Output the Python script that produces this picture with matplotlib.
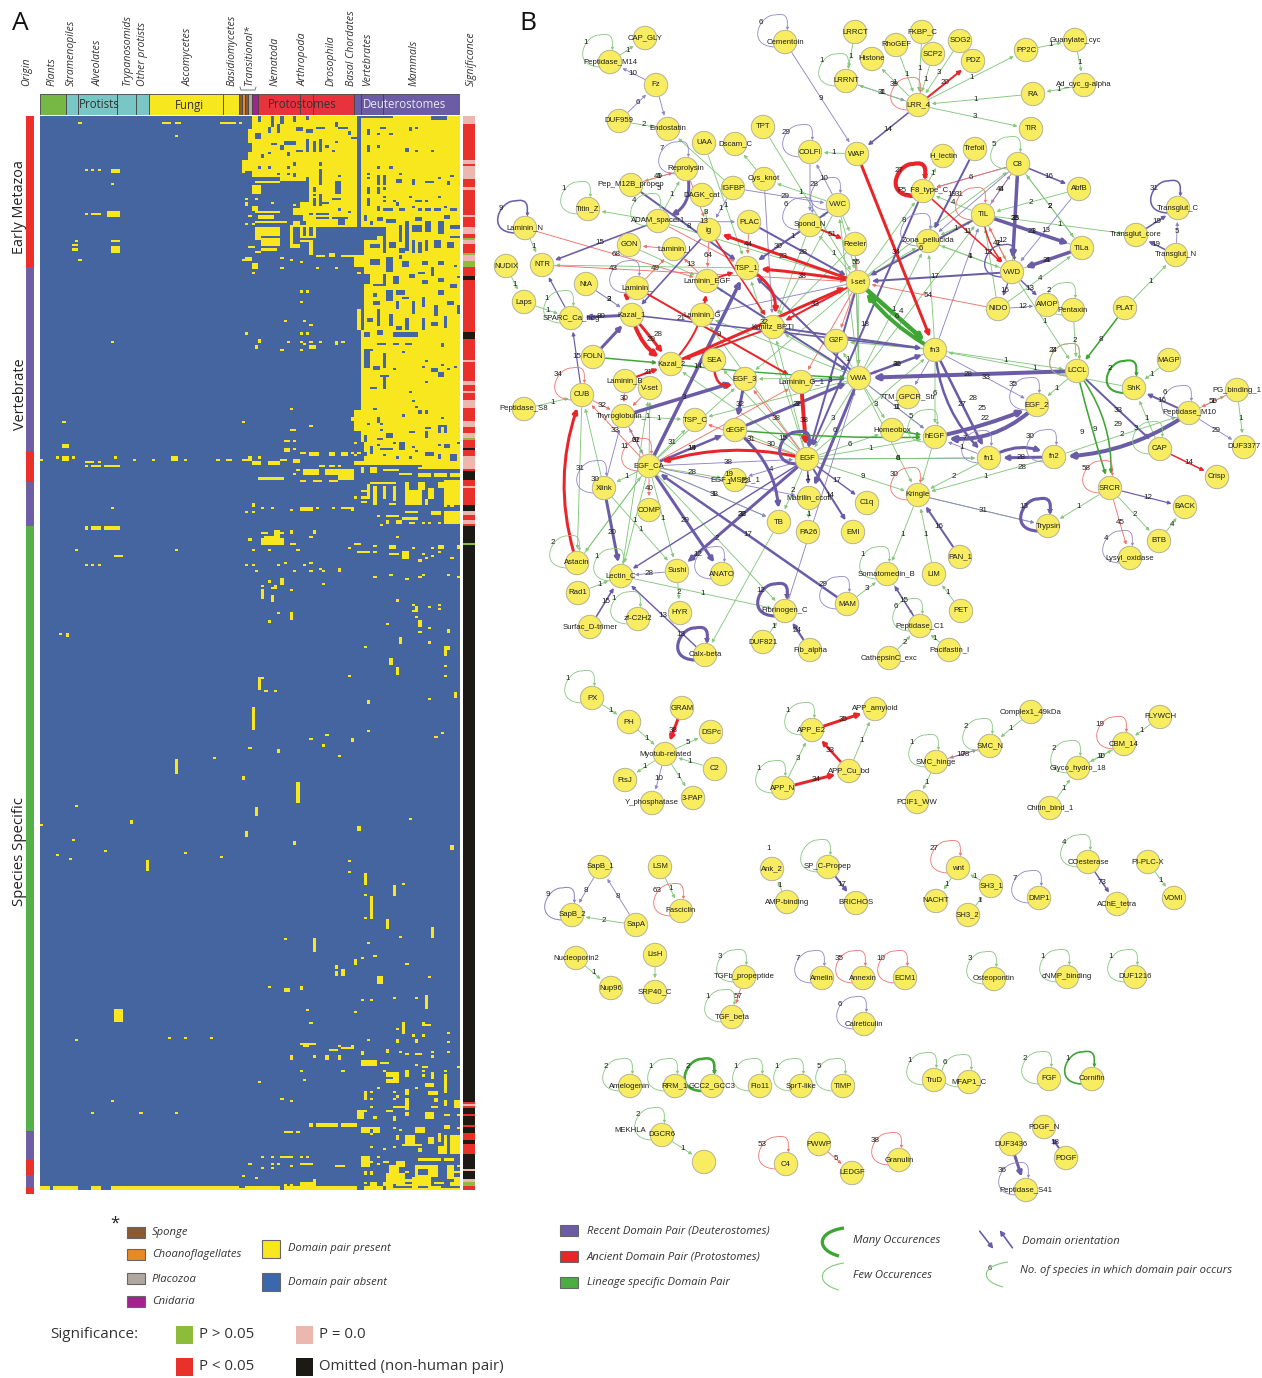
import numpy as np
import matplotlib
matplotlib.use('Agg')
import matplotlib.pyplot as plt
from matplotlib.colors import ListedColormap
from matplotlib.patches import FancyArrowPatch, Rectangle, PathPatch, Circle
from matplotlib.path import Path

plt.rcParams['font.family'] = ['Open Sans', 'DejaVu Sans']

# ---------- heatmap data (columns = species, rows = domain pairs) ----------
N_ROWS, N_COLS = 511, 131
PRESENT_BASE = [(65,99,0,29),(63,66,21,27),(75,99,29,31),(84,99,29,53),(79,84,44,53),(81,84,41,47),
    (100,131,0,164),(98,131,164,166),(119,131,162,168),(98,100,140,150),(97,100,143,145),(98,101,66,72),(99,100,92,102)]
ABSENT_BLOCKS = [
 # protostome part
 (68,69,0,3),(72,73,0,5),(75,76,0,4),(79,80,0,3),(83,84,0,2),(86,89,5,6),(93,96,5,6),(92,93,3,5),(96,97,7,9),
 (65,66,2,6),(67,69,8,11),(71,72,5,8),(74,75,4,8),(80,82,5,7),(83,85,6,8),(76,80,12,14),(72,74,13,14),
 (83,84,11,17),(85,86,12,17),(87,88,11,17),(89,90,14,15),(92,93,12,13),(91,92,16,17),(80,82,16,17),
 (77,78,17,19),(71,72,17,18),(65,66,13,17),(79,80,22,24),(87,88,22,24),(68,69,24,25),(71,72,24,25),(77,78,24,25),
 (64,66,26,30),(87,88,25,33),(83,84,29,33),(93,94,28,29),(92,94,31,37),(74,75,27,28),(77,78,27,28),(79,80,27,29),
 (85,86,34,36),(85,86,37,38),(87,88,37,43),(88,90,41,42),(91,94,39,40),(85,86,39,43),(86,90,46,47),(86,90,48,49),
 (93,95,49,52),(91,96,48,49),(93,94,44,45),(96,97,45,46),(84,85,46,47),(79,82,47,50),(81,83,50,53),
 (65,66,0,2),(97,99,10,11),(69,70,18,20),(75,76,14,16),
 # deuterostome part
 (100,110,0,1),(122,127,0,2),(106,108,5,6),(102,103,6,9),(105,106,8,9),(109,110,8,9),(115,116,5,7),(117,118,5,6),
 (102,103,14,17),(105,106,14,15),(114,115,15,17),(117,118,16,17),(122,123,16,17),(105,106,24,25),(109,110,24,25),
 (102,103,27,28),(102,103,29,30),(105,106,28,33),(107,108,28,33),(112,113,27,28),(111,113,30,32),(116,117,30,33),
 (120,123,31,32),(124,125,29,30),(127,128,31,33),(128,129,28,29),(102,103,34,37),(105,106,34,37),(107,108,34,35),
 (107,108,38,39),(107,108,40,41),(110,111,40,41),(102,103,39,43),(115,116,38,39),(117,119,40,41),(120,121,40,41),
 (124,125,38,39),(105,106,43,45),(107,109,44,45),(109,110,44,45),(112,114,44,45),(116,117,43,44),(118,119,44,45),
 (120,122,44,45),(123,125,44,45),(126,127,43,44),(128,130,44,45),(111,112,41,43),
 # checker rows
 (100,105,53,59),(100,101,59,66),(105,108,53,57),(112,113,52,60),(114,115,50,64),(116,119,52,55),(120,122,50,55),
 (124,126,50,56),(128,131,52,54),(128,131,57,58),(107,108,57,65),(103,106,61,63),(109,111,60,63),(116,117,59,65),
 (118,119,60,65),(120,121,59,64),(123,125,59,63),(127,129,60,63),(112,114,63,65),(101,102,47,50),(105,107,48,50),
 (108,111,49,51),(103,104,50,52),(117,119,48,50),(126,128,47,49),
 (103,106,68,71),(108,110,67,74),(113,115,69,72),(119,121,69,71),(124,126,69,71),(129,130,71,72),
 (100,103,75,80),(107,108,75,81),(110,112,76,80),(115,117,75,77),(119,121,78,80),(124,126,77,79),(130,131,76,77),
 (100,101,72,85),(108,110,83,88),(111,114,83,85),(111,112,88,92),(116,117,88,94),(119,120,86,91),(124,126,83,85),
 (123,124,90,95),(127,129,88,90),(104,107,80,81),(104,106,88,90),(105,106,92,100),(109,110,94,100),(114,115,96,102),
 (119,120,96,102),(126,127,95,101),(102,104,96,98),(100,101,85,102),(122,123,72,76),(112,113,66,68),(118,120,74,75),
 (128,130,80,82),(130,131,90,94),(113,115,86,87),(104,105,84,86),(122,124,98,100),(111,113,100,102),
 # vertebrate rows
 (105,107,102,104),(110,118,103,105),(101,103,103,105),(125,126,108,110),(105,108,108,109),(110,112,108,109),(114,116,108,109),
 (101,103,111,120),(103,104,111,112),(107,108,113,120),(104,106,119,121),(106,109,123,124),(107,108,123,130),(103,105,129,130),
 (110,111,120,121),(113,114,112,113),(119,120,119,120),(122,124,120,122),(125,126,118,119),(124,126,122,124),
 (129,130,119,120),(120,121,126,127),(115,116,131,132),(116,117,135,136),(117,118,138,139),(118,119,140,142),
 (120,121,140,142),(125,126,143,144),(105,106,143,146),(104,105,139,140),(113,114,142,143),(102,103,146,147),
 (106,107,146,147),(106,107,149,150),(120,122,148,149),(120,121,150,153),(124,127,147,148),(124,125,148,151),(126,127,148,151),
 (115,117,150,151),(108,110,151,153),(101,102,152,155),(105,107,153,154),(112,114,155,159),(116,117,157,158),
 (110,111,155,156),(103,104,157,161),(106,110,158,159),(126,128,156,158),(124,125,156,157),(120,123,160,162),
 (130,131,155,156),(128,130,161,164),(117,118,159,160),(111,112,162,163),(115,116,162,163),(124,125,161,163),(101,102,160,162),
 (100,101,155,164),(107,108,161,162),(105,106,156,157),(127,128,120,121),(120,121,116,117)]
PRESENT_BLOCKS = [
 (67,75,31,32),(66,69,33,37),(67,77,50,51),(78,88,52,53),(78,79,52,62),(81,82,52,57),(83,84,52,57),(85,86,52,58),
 (81,85,57,58),(78,81,61,63),(84,85,59,66),(81,84,59,60),(67,75,53,57),(69,75,58,62),(67,69,57,59),(69,74,63,64),
 (65,67,62,63),(67,69,64,65),(86,89,66,67),(90,92,65,67),(94,97,66,67),(96,99,66,67),(64,66,67,69),(66,68,70,73),
 (68,73,45,46),(67,75,45,46),(68,73,47,49),(64,65,41,43),(66,68,43,45),
 (38,41,3,4),(42,44,3,4),(56,61,3,4),(22,25,25,27),(21,25,45,48),(16,19,46,47),(10,12,61,62),(10,12,63,64),(22,25,59,60),(22,25,62,65),
 # mid bands
 (66,69,164,166),(71,75,164,166),(75,77,163,164),(63,66,163,164),(82,87,168,171),(89,98,168,171),(93,98,171,173),
 (87,89,166,167),(90,92,166,167),(93,94,166,167),(81,83,160,161),(84,87,160,162),(90,92,160,162),(94,96,160,162),
 (76,78,158,160),(76,78,154,155),(68,76,172,173),(81,83,173,174),(85,88,173,174),(90,93,173,174),(79,81,163,165),
 (14,17,164,165),(14,15,166,167),(16,19,166,167),(20,25,166,167),(7,9,156,158),(7,9,162,164),(41,43,162,164),(58,60,163,164),
 (100,101,167,170),(107,112,168,169),(112,116,170,171),(118,127,167,168),(118,122,170,172),(123,127,170,172),(103,105,167,170),(128,131,170,172),
 (103,111,174,175),(104,105,176,185),(107,108,176,182),(110,111,176,183),(100,103,178,179),(100,103,181,182),(100,102,183,184),(102,103,175,181),
 (126,131,173,185),(114,119,178,185),(114,115,174,178),(118,120,174,178),(121,123,177,182),(124,126,174,177),(120,121,182,185),
 (126,127,184,186),(128,129,184,186),(109,111,184,185),
 (126,131,188,194),(108,112,190,191),(108,109,192,194),(111,113,192,194),(113,118,191,192),(122,125,188,190),(116,117,193,194),(114,118,188,189),
 (81,85,186,188),(94,98,186,187),(97,98,187,188),
 (14,15,195,197),(16,19,195,197),(20,25,195,197),
 (69,71,198,199),(69,76,201,204),(73,75,197,201),(70,73,200,201),(78,80,203,204),(98,100,203,204),(109,111,204,206),(124,126,204,206),(130,131,204,206),
 (99,103,207,208),(109,112,208,209),(113,115,207,211),(23,26,209,210),
 (68,70,267,268),(73,74,223,225),(72,73,224,225),(126,128,252,254),(117,118,233,236),(116,118,235,236),
 (105,107,409,413),(76,78,415,417),(23,26,425,431),(81,86,441,442),(82,84,442,443),(90,93,444,445),(94,97,443,444),
 (119,122,432,433),(100,103,449,452),(103,105,449,452),(106,109,450,451),(108,112,455,457),(108,110,458,460),(110,112,457,460),
 (120,123,460,462),(121,124,464,466),(110,114,471,472),(129,131,468,472),(122,124,471,472),(99,101,473,477),(99,102,473,474),
 (108,110,473,474),(120,122,474,477),(126,128,475,476),(86,93,479,481),(94,99,479,481),(84,85,479,481),(76,79,483,484),
 (100,103,481,484),(104,106,481,484),(117,120,481,484),(114,117,485,489),(113,119,489,490),(121,123,486,489),(128,131,485,490),
 (124,127,490,494),(128,131,490,494),(75,78,495,496),(81,85,498,499),(92,95,499,500),(100,103,495,500),(111,114,497,500),
 (118,122,496,497),(122,125,496,497),(126,129,496,497),(109,112,499,503),(117,124,499,501),(117,118,500,505),(121,124,500,505),
 (127,129,499,506),(108,114,503,508),(118,122,504,509),(123,126,507,508),(129,131,502,503),(81,86,507,509),(103,105,507,509),
 (128,131,507,509),(113,116,506,507),(126,128,480,482),(108,110,505,511),(116,118,505,511),
 # bottom row
 (0,3,509,511),(4,12,509,511),(16,19,509,511),(22,24,509,511),(24,31,509,511),(31,62,509,511),(62,64,510,511),(64,75,509,511),
 (76,88,509,511),(88,93,509,511),(93,99,509,511),(101,107,509,511),(108,131,510,511),(111,116,508,509),(121,125,509,510),(129,131,505,509)]
# (column, first row, last row exclusive)
PRESENT_STRIPS = [
 (69,225,230),(72,228,231),(78,236,240),(75,220,223),(112,248,251),(126,252,257),(109,258,261),(111,262,266),(68,267,273),
 (129,274,277),(102,278,280),(66,281,292),(97,296,298),(74,301,303),(42,306,313),(63,314,316),(80,317,327),(67,329,333),
 (28,335,337),(99,338,340),(64,340,343),(79,345,347),(128,347,349),(33,354,359),(101,360,366),(110,366,371),(103,371,382),
 (108,382,387),(122,386,391),(85,391,398),(98,401,404),(92,404,406),(92,407,409),(94,406,409),(120,418,425),(113,431,437),
 (118,240,243),(8,246,248),(127,244,246),(68,106,108),(67,109,111),(92,107,109),(66,184,186),(78,197,199),(85,197,199),
 (114,454,457),(122,455,458),(126,456,465),(101,464,468),(114,463,466),(126,468,471),(114,467,473),(123,467,469),(100,445,447),
 (78,447,449),(89,447,449),(93,447,449),(111,439,441),(117,439,441),(97,442,444),(108,444,446),(114,474,476),(110,476,478),
 (122,474,477),(111,485,487),(124,484,488),(126,485,490),(118,491,493),(103,502,504),(101,502,504),(107,507,509)]
PRESENT_CELLS = [
 (12,3),(62,3),(42,9),(65,9),(14,25),(16,25),(18,25),(22,32),(14,46),(11,59),(12,68),(81,83),(83,83),(81,88),(76,97),(82,97),(84,99),
 (64,39),(67,39),(72,41),(79,42),(65,47),(64,51),(66,51),(75,67),(78,68),(81,69),(63,68),(66,74),(75,72),(92,72),(99,74),(86,72),
 (22,107),(64,103),(77,107),(75,111),(81,103),(83,103),(81,107),(82,108),(84,107),(81,111),(87,107),(94,107),(84,109),(85,109),(84,110),(85,110),
 (78,139),(63,145),(7,145),(84,147),(78,149),(79,149),(76,154),(79,154),(79,158),(0,163),(5,162),(10,162),(23,162),(29,163),(35,163),(45,163),(55,163),
 (65,162),(68,162),(18,164),(80,168),(79,170),(98,155),(99,160),(97,160),(98,161),(22,186),(64,188),(66,188),(69,186),(72,186),(78,187),(86,186),(91,186),
 (98,181),(105,190),(106,194),(115,193),(119,193),(121,193),(124,193),(75,198),(84,200),(65,201),(111,200),(104,204),(96,205),(116,205),(122,205),
 (11,206),(42,206),(66,206),(71,206),(80,206),(124,207),(104,207),(119,208),(122,209),(128,210),(118,211),(120,210),
 (14,213),(16,213),(18,213),(64,213),(66,213),(74,213),(76,212),(82,213),(84,212),(87,215),(93,215),(67,216),(79,216),(84,216),(88,216),(93,216),
 (104,219),(109,218),(114,220),(118,219),(119,218),(127,218),(130,219),(69,223),(71,221),(78,225),(74,236),(71,240),(88,222),(111,230),(116,232),
 (121,233),(124,232),(124,234),(117,238),(121,243),(118,245),(108,241),(6,246),(121,250),(101,252),(126,261),(126,266),(96,266),(70,273),(73,273),
 (121,277),(102,292),(89,294),(84,296),(88,299),(65,300),(93,304),(54,305),(11,328),(0,337),(115,334),(10,344),(20,349),(5,351),(9,353),(45,350),(56,352),
 (96,354),(96,359),(113,365),(125,293),(123,295),(101,370),(101,381),(112,390),(76,391),(102,393),(100,400),(104,399),(114,403),(121,409),(71,414),
 (81,414),(81,415),(100,420),(103,420),(110,419),(117,419),(83,425),(98,426),(84,431),(111,434),(119,431),(11,439),(40,438),(45,438),(53,438),(102,439),
 (116,437),(119,437),(127,436),(127,440),(93,442),(100,446),(112,445),(114,446),(117,446),(118,446),(122,445),(122,447),(127,445),(85,447),(117,451),
 (119,452),(120,452),(130,452),(107,454),(119,454),(119,456),(126,454),(81,454),(94,454),(82,458),(68,459),(105,462),(117,462),(103,464),(103,467),
 (110,464),(110,467),(111,466),(75,467),(78,468),(123,464),(22,468),(103,471),(16,474),(31,474),(42,474),(104,476),(130,475),(103,481),(110,481),(112,482),
 (80,483),(103,484),(127,481),(130,481),(103,490),(107,491),(110,490),(69,495),(72,495),(78,495),(81,495),(83,495),(65,498),(72,498),(74,498),(78,499),(69,500),(72,500),
 (105,495),(107,497),(108,497),(103,497),(105,498),(63,504),(67,505),(76,508),(78,508),(85,506),(101,507),(113,498),(120,500),(114,502),(130,499)]

# ---------- bars around the heatmap ----------
ORIGIN_CODES = ['R','P','R','P','G','P','R','P','R']
ORIGIN_ROWS = [72,88,14,21,288,14,7,6,3]
SIG_CODES = ['P','R','P','R','P','R','P','R','P','R','P','R','G','P','R','G','P','G','R','K','R','K','R','P','R','P','R','P','R','P','R','P','R','P','G','R','K','R','P','R','K','R','P','R','K','P','R','P','R','K','G','K','R','P','R','K','R','K','R','K','R','K','R','K','P','K','P','G','R']
SIG_ENDS = [4,21,23,24,30,34,35,47,48,53,56,58,59,61,65,66,69,72,76,78,103,106,116,117,126,128,131,132,135,139,145,148,151,153,154,158,159,162,168,169,173,176,177,185,188,190,192,194,195,203,204,469,470,471,472,475,476,480,481,484,487,489,494,501,502,506,507,509,511]
HEADER_NAMES = ['Plants','Stramenopiles','Alveolates','Trypanosomids','Other protists','Ascomycetes','Basidiomycetes','Sponge','Choanoflagellates','Sponge2','Placozoa','Cnidaria','Nematoda','Arthropoda','Drosophila','Basal Chordates','Vertebrates','Mammals']
HEADER_COLS = [8,4,12,6,4,23,5,1,1,1,1,2,13,4,13,2,7,24]
HEADER_COLORS = ['#76b843','#78c6c6','#78c6c6','#78c6c6','#78c6c6','#f7e71f','#f7e71f','#8a5a34','#e58a25','#8a5a34','#b0a8a0','#a3238e','#e8323c','#e8323c','#e8323c','#6b5ca5','#6b5ca5','#6b5ca5']
HEADER_TEXT = ['Origin','Plants','Stramenopiles','Alveolates','Trypanosomids','Other protists','Ascomycetes','Basidiomycetes','Transitional*','Nematoda','Arthropoda','Drosophila','Basal Chordates','Vertebrates','Mammals','Significance']
HEADER_TEXT_X = [27,52,71,98,128,143,188,232,250,275,303,331,352,368,414,471]

# ---------- network data ----------
NODES = {
'CAP_GLY':(645,38),'Peptidase_M14':(610,62),'Fz':(656,85),'DUF959':(619,121),'Endostatin':(668,129),'UAA':(704,143),'Dscam_C':(735,144),'TPT':(763,127),
'COLFI':(810,152),'WAP':(857,154),'Cementoin':(785,42),'LRRCT':(855,32),'Histone':(872,59),'LRRNT':(846,81),'RhoGEF':(896,45),'FKBP_C':(922,32),'SOG2':(960,41),
'SCP2':(933,54),'PDZ':(973,61),'LRR_4':(918,105),'PP2C':(1026,50),'Guanylate_cyc':(1075,40),'Ad_cyc_g-alpha':(1084,85),'RA':(1033,94),'TIR':(1031,129),
'Reprolysin':(686,169),'Pep_M12B_propep':(631,185),'DAGK_cat':(702,195),'IGFBP':(733,188),'Cys_knot':(764,179),'Titin_Z':(588,209),'ADAM_spacer1':(658,221),
'VWC':(838,205),'ig':(709,230),'PLAC':(749,222),'Spond_N':(810,225),'Reeler':(855,244),'Laminin_N':(525,228),'GON':(629,245),'Laminin_I':(674,249),'NTR':(542,265),
'NUDIX':(506,266),'TSP_1':(747,268),'I-set':(858,282),'Laps':(524,302),'NtA':(586,284),'Laminin_x':(637,288),'Laminin_EGF':(707,281),'Kazal_1':(632,315),
'SPARC_Ca_bdg':(571,318),'Laminin_G':(702,315),'Kunitz_BPTI':(773,327),'G2F':(836,341),'fn3':(935,350),'H_lectin':(943,156),'Trefoil':(975,149),'C8':(1018,164),
'AbfB':(1079,189),'F5_F8_type_C':(923,191),'TIL':(983,215),'Transglut_C':(1178,208),'Transglut_core':(1136,235),'Zona_pellucida':(928,241),'TILa':(1082,248),
'Transglut_N':(1176,255),'VWD':(1012,272),'NIDO':(998,309),'AMOP':(1047,305),'Pentaxin':(1073,310),'PLAT':(1125,308),
'FOLN':(593,357),'Kazal_2':(671,364),'SEA':(714,360),'Laminin_B':(625,381),'V-set':(650,388),'EGF_3':(745,379),'Laminin_G_1':(801,382),'VWA':(859,378),'CUB':(582,395),
'Peptidase_S8':(524,409),'Thyroglobulin_1':(623,416),'TSP_C':(695,420),'cEGF':(735,430),'EGF':(807,459),'EGF_CA':(649,466),'Xlink':(604,488),'EGF_MSP1_1':(735,480),
'Matrilin_ccoil':(809,498),'C1q':(867,503),'COMP':(649,510),'TB':(779,522),'PA26':(808,532),'EMI':(853,532),'Astacin':(577,563),'Lectin_C':(621,576),'Sushi':(677,571),
'ANATO':(722,574),'Rad1':(578,593),'HYR':(680,613),'MAM':(847,604),'zf-C2H2':(638,619),'Surfac_D-trimer':(590,627),'Fibrinogen_C':(785,611),'DUF821':(763,642),
'Fib_alpha':(810,650),'Calx-beta':(705,655),'LCCL':(1077,371),'MAGP':(1169,360),'ShK':(1134,388),'PG_binding_1':(1237,390),'EGF_2':(1037,405),'7TM_GPCR_Str':(908,397),
'Peptidase_M10':(1189,413),'hEGF':(935,437),'Homeobox':(892,430),'fn1':(989,458),'fn2':(1054,457),'CAP':(1160,449),'DUF3377':(1244,447),'Crisp':(1217,477),'Kringle':(918,495),
'SRCR':(1110,488),'BACK':(1185,507),'Trypsin':(1048,526),'BTB':(1159,541),'Lysyl_oxidase':(1130,558),'PAN_1':(960,557),'LIM':(934,574),'Somatomedin_B':(887,574),
'PET':(961,611),'Peptidase_C1':(920,626),'Pacifastin_I':(949,650),'CathepsinC_exc':(889,658),
'PX':(592,698),'PH':(629,722),'GRAM':(682,708),'DSPc':(711,732),'Myotub-related':(665,754),'C2':(715,769),'FtsJ':(625,780),'Y_phosphatase':(652,803),'3-PAP':(693,798),
'APP_E2':(812,730),'APP_amyloid':(875,709),'APP_Cu_bd':(849,771),'APP_N':(783,788),'Complex1_49kDa':(1031,712),'SMC_N':(990,746),'SMC_hinge':(936,762),'PCIF1_WW':(917,802),
'FLYWCH':(1160,717),'CBM_14':(1124,744),'Glyco_hydro_18':(1078,768),'Chitin_bind_1':(1050,808),'SapB_1':(600,867),'SapB_2':(572,915),'SapA':(636,925),'LSM':(660,867),
'Fasciclin':(681,911),'Ank_2':(772,869),'SP_C-Propep':(828,867),'AMP-binding':(787,902),'BRICHOS':(856,903),'wnt':(958,868),'SH3_1':(991,886),'NACHT':(936,901),'SH3_2':(968,915),
'DMP1':(1039,898),'COesterase':(1088,862),'AChE_tetra':(1117,904),'PI-PLC-X':(1148,862),'VOMI':(1174,898),'Nucleoporin2':(576,958),'Nup96':(611,988),'LisH':(655,955),
'SRP40_C':(655,992),'TGFb_propeptide':(744,977),'Amelin':(822,978),'Annexin':(863,978),'ECM1':(905,978),'Osteopontin':(994,979),'cNMP_binding':(1067,977),'DUF1216':(1135,977),
'TGF_beta':(732,1017),'Calreticulin':(864,1024),'Amelogenin':(630,1086),'RRM_1':(675,1086),'GCC2_GCC3':(712,1086),'Flo11':(760,1086),'SprT-like':(801,1086),'TIMP':(843,1086),
'TruD':(934,1080),'MFAP1_C':(969,1082),'FGF':(1049,1079),'Cornifin':(1092,1079),'DGCR6':(662,1135),'_blank':(704,1162),'C4':(786,1164),'PWWP':(819,1144),'LEDGF':(852,1173),
'Granulin':(899,1160),'PDGF_N':(1044,1127),'DUF3436':(1011,1144),'PDGF':(1066,1158),'Peptidase_S41':(1026,1190)}
NODE_TEXT_OVERRIDE = {'Laminin_x':'Laminin_'}

# (source, target, class, width, label, curvature)
THICK_EDGES = [
('LCCL','VWA','P',4,'28',0),('hEGF','EGF_2','P',4,'22',0.05),('EGF_2','hEGF','P',4,'25',-0.25),('fn2','fn1','P',3,'28',0),('fn1','fn2','P',3,'28',-0.3),
('fn3','fn1','P',2.5,'27',0),('fn3','fn1','P',2.5,'28',0.2),('LCCL','CAP','P',2,'33',0),('Peptidase_M10','fn2','P',4,'29',-0.15),('Peptidase_M10','ShK','P',2,'16',0),
('TIL','TILa','P',3.5,'23',0),('TILa','VWD','P',3.5,'21',0),('C8','VWD','P',3.5,'25',0),('PAN_1','Kringle','P',2,'16',0),('cEGF','TB','P',3,'22',-0.25),
('EGF_CA','ANATO','P',3,'29',0),('cEGF','VWA','P',3,'22',0),('EGF','Sushi','P',3,'32',0),('VWA','Matrilin_ccoil','P',3,'',0),('Xlink','Lectin_C','P',3,'20',0),
('MAM','EGF_CA','P',2.5,'17',0),('Kazal_1','SPARC_Ca_bdg','P',3,'80',0),('Pep_M12B_propep','TSP_1','P',2,'8',0),('Reprolysin','ADAM_spacer1','P',3,'5',-0.5),
('ADAM_spacer1','NTR','P',1.6,'15',0),('EGF_CA','TSP_1','P',3.5,'14',0),('Thyroglobulin_1','EGF_3','P',3.5,'3',0),('EGF_CA','cEGF','P',2.5,'14',0),
('I-set','EGF','P',2,'',0),('PLAC','I-set','P',2,'28',0),('LRR_4','WAP','P',1.6,'14',0),('Trefoil','Zona_pellucida','P',2,'19',0),('F5_F8_type_C','EGF','P',2,'18',0),
('TIL','I-set','P',2,'6',0),('VWD','I-set','P',2,'17',0),('VWA','fn3','P',2.5,'31',0),('Kazal_1','fn3','P',1.6,'',0),('Kunitz_BPTI','fn3','P',2,'',0),('VWA','TSP_1','P',2,'',0),
('Laminin_EGF','VWA','P',2,'',0),('ig','Kazal_1','P',1.6,'',0),('VWC','TSP_1','P',2,'',0),('FOLN','Kazal_1','P',3,'',0),('EGF_3','cEGF','P',3,'32',0),('SPARC_Ca_bdg','NTR','P',1.2,'',0),
('CUB','SPARC_Ca_bdg','P',1.2,'15',0),('Laminin_G_1','VWA','P',1.6,'3',0),('EGF','Matrilin_ccoil','P',1.6,'',0),('EGF','EMI','P',2,'14',0),('EGF','C1q','P',1.4,'17',0),
('EGF','Lectin_C','P',1.4,'',0),('Fib_alpha','Fibrinogen_C','P',2.2,'24',0),('Surfac_D-trimer','Lectin_C','P',1.6,'15',0),('Calx-beta','Lectin_C','P',1.4,'13',0),
('C8','AbfB','P',1.6,'16',0),('Transglut_core','Transglut_C','P',1.6,'19',0),('Transglut_N','Transglut_core','P',1.6,'19',0),('VWD','AMOP','P',1.4,'13',0),
('PDGF','PDGF_N','P',2,'18',0),('DUF3436','Peptidase_S41','P',3,'',0),('SP_C-Propep','BRICHOS','P',2,'17',0),('Peptidase_C1','Somatomedin_B','P',1.6,'15',0),
('COesterase','AChE_tetra','P',1.5,'73',0),('SRCR','BACK','P',1.2,'12',0),('VWD','NIDO','P',1.4,'16',0),
('I-set','ig','R',3,'23',0),('I-set','TSP_1','R',3,'38',0.03),('Kazal_2','I-set','R',3,'32',0),('EGF','EGF_CA','R',3,'19',0.15),('Laminin_G_1','EGF','R',4,'38',0),
('Astacin','CUB','R',3,'30',-0.18),('WAP','fn3','R',3,'34',0),('Kazal_1','Kazal_2','R',4,'28',0.25),('Kazal_1','Kazal_2','R',3,'29',-0.02),('TSP_1','Kunitz_BPTI','R',3,'',-0.4),
('SEA','EGF_3','R',2.5,'',0.9),('TIL','VWD','R',1.5,'12',0.2),('F5_F8_type_C','VWD','R',1.6,'11',0),('Spond_N','Reeler','R',2,'51',0),('Laminin_EGF','TSP_1','R',2,'',0),
('Laminin_x','Kazal_1','R',3,'',0.55),('Laminin_B','Kazal_2','R',2.2,'31',0),('Kazal_2','Laminin_EGF','R',2,'21',0.2),('Laminin_x','Laminin_G_1','R',2,'9',0),('ig','Kunitz_BPTI','R',1.6,'',0),
('LRR_4','PDZ','R',2,'20',0),('CAP','Crisp','R',1.5,'14',0),('APP_E2','APP_amyloid','R',3,'35',0),('APP_Cu_bd','APP_E2','R',2.5,'33',0),('APP_N','APP_Cu_bd','R',3,'34',0),
('GRAM','Myotub-related','R',3,'38',0),('Kunitz_BPTI','Kazal_2','R',2,'',0),('I-set','Kunitz_BPTI','R',2,'33',0),
('I-set','fn3','G',4.5,'6',0),('fn3','I-set','G',4,'4',-0.12),('LCCL','SRCR','G',1.6,'9',0.02),('LCCL','SRCR','G',1.6,'9',-0.2),('PLAT','LCCL','G',1.6,'8',0),
('cEGF','hEGF','G',1.5,'6',0.03),('Homeobox','hEGF','G',1.5,'',0),('Kazal_2','VWA','G',1.4,'',0.02),('FOLN','Kazal_2','G',1.5,'',0)]
# (source, target, class, label)
THIN_EDGES = [
('Peptidase_M14','CAP_GLY','G','1'),('Fz','Peptidase_M14','P','10'),('DUF959','Fz','P','6'),('DUF959','Endostatin','G','2'),('Fz','Endostatin','P',''),('IGFBP','Endostatin','G',''),
('Cementoin','WAP','P','9'),('WAP','COLFI','G','1'),('LRRCT','LRRNT','G','1'),('UAA','TSP_1','G','1'),('Cys_knot','Dscam_C','G',''),('TPT','I-set','G',''),('VWC','Cys_knot','G','1'),
('Reprolysin','Pep_M12B_propep','G','1'),('Pep_M12B_propep','Reprolysin','R','49'),('ADAM_spacer1','Reprolysin','G','1'),('ig','DAGK_cat','G','3'),('Reprolysin','ig','R',''),('IGFBP','ig','P','1'),
('ADAM_spacer1','Titin_Z','G',''),('NUDIX','Laps','G','1'),('Laminin_N','NTR','G','1'),('Laminin_N','Laminin_EGF','R','68'),('Laps','SPARC_Ca_bdg','G','1'),('NtA','Kazal_1','G','2'),('NtA','Kazal_1','P','3'),
('TSP_1','NTR','G',''),('ADAM_spacer1','PLAC','P','13'),('IGFBP','VWC','P','29'),('ADAM_spacer1','I-set','G',''),('ADAM_spacer1','TSP_1','R',''),('Laminin_I','GON','R',''),
('GON','Laminin_EGF','G',''),('NTR','I-set','R',''),('Laminin_x','Laminin_I','R','49'),('Laminin_EGF','Laminin_I','R','13'),('ig','Laminin_EGF','R','64'),('PLAC','TSP_1','R','44'),('Cys_knot','Kunitz_BPTI','P',''),
('COLFI','Spond_N','P',''),('VWC','COLFI','P','10'),('VWC','Spond_N','G',''),('Spond_N','TSP_1','P','30'),('Spond_N','Kunitz_BPTI','G',''),('VWC','I-set','G',''),('VWC','Reeler','G',''),('VWC','TSP_1','G','1'),
('VWC','Kunitz_BPTI','G',''),('Reeler','Kunitz_BPTI','G',''),('Reeler','VWA','P',''),('I-set','Spond_N','G','1'),('I-set','Reeler','R','55'),('I-set','VWA','G',''),('I-set','Zona_pellucida','G',''),('I-set','TIL','G',''),
('I-set','C8','G',''),('I-set','Laminin_G_1','R',''),('I-set','G2F','R',''),('I-set','F5_F8_type_C','G',''),('I-set','EGF_3','G',''),('I-set','Laminin_G','P',''),
('VWA','TSP_1','G',''),('VWA','Laminin_EGF','G',''),('VWA','G2F','G','1'),('VWA','hEGF','G','11'),('VWA','Homeobox','G','3'),('VWA','EGF','G','3'),('VWA','Kunitz_BPTI','G',''),('VWA','Reeler','G',''),('VWA','VWC','G',''),
('VWA','TSP_C','G',''),('VWA','cEGF','G','3'),('VWA','EGF_3','G',''),('VWA','Zona_pellucida','G','1'),('VWA','TIL','G',''),('VWA','Laminin_G','G',''),('VWA','EGF_CA','G',''),('VWA','Kringle','G',''),('VWA','hEGF','P','1'),
('fn3','VWA','P','40'),('fn3','TIL','P',''),('fn3','Zona_pellucida','G',''),('fn3','hEGF','G','6'),('fn3','7TM_GPCR_Str','P',''),('fn3','EGF_2','P','33'),('fn3','Kunitz_BPTI','G',''),('fn3','G2F','G',''),('NIDO','I-set','R','54'),
('EGF','hEGF','G','1'),('EGF','cEGF','G','30'),('EGF','Kunitz_BPTI','G',''),('EGF','Laminin_G','G',''),('EGF','EGF_3','R','38'),('EGF','SEA','G',''),('EGF','EGF_MSP1_1','P','4'),('EGF','TB','G','2'),('EGF','Matrilin_ccoil','G','1'),
('EGF','Kringle','G','9'),('EGF','Homeobox','G','6'),('EGF','fn1','P','6'),('EGF','fn1','G','8'),('EGF','TSP_C','R','31'),('EGF','Kazal_2','G',''),('EGF','TSP_1','G',''),('EGF','fn3','G',''),('Matrilin_ccoil','PA26','G','1'),
('EGF_CA','TSP_C','G','31'),('EGF_CA','V-set','G',''),('EGF_CA','Sushi','G','1'),('EGF_CA','Lectin_C','G','1'),('EGF_CA','Xlink','G','1'),('EGF_CA','Astacin','G',''),('EGF_CA','EGF_3','G',''),('EGF_CA','EGF_MSP1_1','G','28'),
('EGF_CA','TB','G','1'),('EGF_CA','TB','P','33'),('EGF_CA','Fibrinogen_C','G','2'),('EGF_CA','Laminin_G_1','R',''),('EGF_CA','EGF','P','38'),('EGF_CA','Thyroglobulin_1','R','67'),('EGF_CA','CUB','R','33'),('EGF_CA','COMP','R','40'),
('EGF_CA','cEGF','R','19'),('EGF_CA','Matrilin_ccoil','P','1'),('Thyroglobulin_1','EGF_CA','P','31'),('Thyroglobulin_1','TSP_C','G','1'),('Laminin_B','Thyroglobulin_1','R','30'),('V-set','Thyroglobulin_1','R',''),('CUB','Thyroglobulin_1','R','32'),
('Peptidase_S8','CUB','G','1'),('CUB','Astacin','G',''),('Xlink','CUB','G',''),('Xlink','Sushi','G','1'),('Xlink','Thyroglobulin_1','P',''),('Astacin','EGF_CA','G',''),('Lectin_C','V-set','G',''),('Sushi','Lectin_C','P','28'),('Sushi','HYR','G','2'),
('Rad1','Lectin_C','G','1'),('Lectin_C','Fibrinogen_C','G','1'),('TB','Calx-beta','G',''),('EGF','Sushi','P','28'),('DUF821','Fibrinogen_C','G','1'),('MAM','Somatomedin_B','G','3'),('Fibrinogen_C','VWA','P',''),
('hEGF','Kringle','G',''),('fn1','Kringle','G','2'),('fn2','Kringle','G','1'),('Kringle','Trypsin','G',''),('Kringle','Trypsin','P','31'),('Kringle','Somatomedin_B','G','1'),('LIM','Kringle','G','1'),('PET','LIM','G','1'),
('SRCR','Trypsin','G','1'),('SRCR','BTB','G','2'),('BTB','BACK','G','4'),('SRCR','Lysyl_oxidase','R','45'),('Peptidase_M10','PG_binding_1','G','1'),('PG_binding_1','Peptidase_M10','R','56'),('PG_binding_1','DUF3377','G','1'),
('Peptidase_M10','DUF3377','P','29'),('MAGP','ShK','G','1'),('CAP','ShK','G','1'),('ShK','fn3','G','1'),('fn2','Peptidase_M10','G','2'),('LCCL','EGF_2','G','1'),('fn3','LCCL','G','1'),('VWD','LCCL','G','1'),
('Pentaxin','LCCL','G','2'),('fn1','hEGF','P','1'),
('LRRNT','LRR_4','P','31'),('LRR_4','LRRNT','G','1'),('RhoGEF','LRR_4','G','1'),('FKBP_C','LRR_4','G','1'),('SCP2','LRR_4','G','1'),('SOG2','LRR_4','G','3'),('LRR_4','PP2C','G','1'),('RA','LRR_4','G','1'),('LRR_4','TIR','G','3'),('LRR_4','Histone','G','1'),
('PP2C','Guanylate_cyc','G','1'),('Guanylate_cyc','Ad_cyc_g-alpha','G','1'),('Ad_cyc_g-alpha','RA','G','1'),
('F5_F8_type_C','H_lectin','G','1'),('C8','F5_F8_type_C','P','6'),('C8','F5_F8_type_C','R',''),('TIL','F5_F8_type_C','G','4'),('C8','TIL','R','44'),('TIL','C8','P','6'),('C8','VWD','R','33'),('VWD','C8','G','2'),('C8','TILa','G','2'),('TILa','C8','G','2'),
('AbfB','TIL','G','2'),('AbfB','VWD','P','13'),('C8','Zona_pellucida','P',''),('TIL','Zona_pellucida','G','1'),('VWD','Zona_pellucida','G','4'),('Zona_pellucida','VWD','G','1'),('TIL','VWD','G','1'),('VWD','TIL','R','42'),('TILa','TIL','G','1'),('TIL','Transglut_core','G','1'),
('NIDO','TIL','G',''),('NIDO','AMOP','P','12'),('VWD','TILa','G','4'),('NIDO','TILa','G','4'),('PLAT','Transglut_N','G','1'),('Transglut_N','Transglut_C','P','5'),
('PX','PH','G','1'),('PH','Myotub-related','G','1'),('Myotub-related','DSPc','G','5'),('C2','Myotub-related','G','1'),('Myotub-related','FtsJ','G','1'),('Myotub-related','Y_phosphatase','P','10'),('Myotub-related','3-PAP','G','1'),
('APP_N','APP_E2','G','3'),('APP_Cu_bd','APP_amyloid','G','1'),('Complex1_49kDa','SMC_N','G','1'),('SMC_N','SMC_hinge','R','108'),('SMC_hinge','SMC_N','P','7'),('SMC_hinge','PCIF1_WW','G','1'),('FLYWCH','CBM_14','G','1'),('CBM_14','Glyco_hydro_18','G','1'),('Glyco_hydro_18','CBM_14','G','10'),('Chitin_bind_1','Glyco_hydro_18','G','1'),
('SapB_1','SapB_2','P','8'),('SapA','SapB_1','P','8'),('SapA','SapB_2','G','2'),('LSM','Fasciclin','G','1'),('AMP-binding','Ank_2','G','1'),('SH3_1','wnt','G','1'),('wnt','NACHT','G','1'),('SH3_2','SH3_1','G','1'),('PI-PLC-X','VOMI','G','1'),
('Nucleoporin2','Nup96','G','1'),('LisH','SRP40_C','G',''),('TGFb_propeptide','TGF_beta','R','57'),('DGCR6','_blank','G','1'),('PWWP','LEDGF','R','5'),
('CathepsinC_exc','Peptidase_C1','G','2'),('Pacifastin_I','Peptidase_C1','G','1'),('Somatomedin_B','Peptidase_C1','G','')]
# (node, class, width, label)
SELF_LOOPS = [
('Peptidase_M14','G',.8,'1'),('Cementoin','P',.8,'6'),('LRRNT','G',.8,'1'),('LRR_4','R',.8,'39'),('COLFI','P',.8,'29'),('Reprolysin','P',.8,'7'),('Titin_Z','G',.8,'1'),('ADAM_spacer1','G',.8,'4'),('Spond_N','P',.8,'6'),
('VWC','P',.8,'28'),('Laminin_N','P',1.5,'9'),('Laminin_x','P',.8,'43'),('SPARC_Ca_bdg','G',.8,'1'),('F5_F8_type_C','R',4,'27'),('TIL','R',.8,'31'),('Zona_pellucida','P',.8,'8'),('C8','G',.8,'5'),('VWD','P',1.3,'13'),
('Transglut_C','P',1.5,'31'),('EGF','P',3,'15'),('EGF_2','P',.8,'35'),('hEGF','G',.8,'5'),('fn1','P',.8,'7'),('fn2','P',.8,'30'),('CAP','G',.8,'3'),('ShK','G',2,'2'),('Peptidase_M10','P',.8,'6'),('LCCL','R',.8,'24'),('LCCL','G',.8,'2'),
('SRCR','R',.8,'58'),('Trypsin','P',3,'13'),('Lysyl_oxidase','P',.8,'4'),('Kringle','R',.8,'30'),('CUB','R',.8,'34'),('Xlink','P',.8,'31'),('EGF_CA','R',.8,'11'),('Astacin','G',.8,'2'),('Lectin_C','G',.8,'1'),('ANATO','P',.8,'12'),
('zf-C2H2','G',.8,'1'),('Fibrinogen_C','P',3,'12'),('Calx-beta','P',3,'13'),('MAM','P',.8,'29'),('Somatomedin_B','G',.8,'1'),('Peptidase_C1','G',.8,'6'),('Pentaxin','G',.8,'2'),
('PX','G',.8,'1'),('APP_E2','G',.8,'1'),('APP_N','G',.8,'1'),('SMC_N','G',.8,'2'),('SMC_hinge','G',.8,'1'),('CBM_14','R',.8,'19'),('Glyco_hydro_18','G',.8,'2'),('SapB_2','P',1,'9'),('Fasciclin','R',.8,'63'),('SP_C-Propep','G',.8,''),
('wnt','R',.8,'27'),('DMP1','P',.8,'7'),('COesterase','G',.8,'4'),('TGFb_propeptide','G',.8,'3'),('TGF_beta','G',.8,'1'),('Amelin','P',.8,'7'),('Annexin','R',.8,'35'),('ECM1','R',.8,'10'),('Osteopontin','G',.8,'3'),('cNMP_binding','G',.8,'1'),
('DUF1216','G',.8,'1'),('Calreticulin','P',.8,'6'),('Amelogenin','G',.8,'2'),('RRM_1','G',.8,'1'),('GCC2_GCC3','G',2.5,'2'),('Flo11','G',.8,'1'),('SprT-like','G',.8,'1'),('TIMP','G',.8,'5'),('TruD','G',.8,'1'),('MFAP1_C','G',.8,'6'),
('FGF','G',.8,'2'),('Cornifin','G',1.6,'1'),('DGCR6','G',.8,'2'),('C4','R',.8,'53'),('Granulin','R',.8,'38'),('Peptidase_S41','P',.8,'36')]
EXTRA_LABELS = [('MEKHLA',630,1131),('1',769,849)]

LEGEND_SPECIES = ['Sponge','Choanoflagellates','Placozoa','Cnidaria']
LEGEND_SPECIES_COL = ['#8a5a34','#e58a25','#b0a8a0','#a3238e']
LEGEND_PAIR = ['Domain pair present','Domain pair absent']
LEGEND_CLASS = ['Recent Domain Pair (Deuterostomes)','Ancient Domain Pair (Protostomes)','Lineage specific Domain Pair']
LEGEND_SIG = ['P > 0.05','P = 0.0','P < 0.05','Omitted (non-human pair)']

# ---------- colours ----------
BLUE, YELLOW = '#44659f', '#f8e71f'
STRONG = {'P':'#6b5ca8','R':'#e8262a','G':'#3fa535'}
LIGHT = {'P':'#8f86c6','R':'#f0716a','G':'#84c87c'}
BAR = {'R':'#e9302a','P':'#6e5ea6','G':'#55b04a','K':'#1d1a16'}
SIG = {'P':'#ecb7ae','R':'#e9302a','G':'#8dbb3a','K':'#1d1a16'}
NET_FONT = ['Liberation Sans', 'DejaVu Sans']
NODE_FS, EDGE_FS = 5.6, 5.8
SW, SH = 1262, 1378

fig = plt.figure(figsize=(SW/100, SH/100), dpi=100, facecolor='white')
def px_axes(x0, y0, x1, y1, **kw):
    a = fig.add_axes([x0/SW, 1-y1/SH, (x1-x0)/SW, (y1-y0)/SH], **kw)
    a.set_axis_off()
    return a

# ---------- matrix ----------
M = np.zeros((N_ROWS, N_COLS), dtype=int)
for c0,c1,r0,r1 in PRESENT_BASE: M[r0:r1,c0:c1] = 1
for c0,c1,r0,r1 in ABSENT_BLOCKS: M[r0:r1,c0:c1] = 0
for c0,c1,r0,r1 in PRESENT_BLOCKS: M[r0:r1,c0:c1] = 1
for c,r0,r1 in PRESENT_STRIPS: M[r0:r1,c] = 1
for c,r in PRESENT_CELLS: M[r,c] = 1
axh = px_axes(40,116,460,1190)
axh.imshow(M, cmap=ListedColormap([BLUE,YELLOW]), vmin=0, vmax=1, aspect='auto', interpolation='nearest')

# origin bar
axo = px_axes(26,116,34,1194)
axo.set_xlim(0,1); axo.set_ylim(sum(ORIGIN_ROWS),0)
axo.bar([0.5]*len(ORIGIN_ROWS), ORIGIN_ROWS, width=1, bottom=np.r_[0,np.cumsum(ORIGIN_ROWS)[:-1]], color=[BAR[c] for c in ORIGIN_CODES])
# significance bar
axs = px_axes(463,116,475,1190)
axs.set_xlim(0,1); axs.set_ylim(N_ROWS,0)
sig_ends = np.array(SIG_ENDS)
axs.bar([0.5]*len(SIG_ENDS), np.diff(np.r_[0,sig_ends]), width=1, bottom=np.r_[0,sig_ends[:-1]], color=[SIG[c] for c in SIG_CODES[:len(SIG_ENDS)]])
# header
axt = px_axes(40,94,460,115)
axt.set_xlim(0,N_COLS); axt.set_ylim(0,1)
left = np.r_[0,np.cumsum(HEADER_COLS)[:-1]]
axt.bar(left, [1]*len(HEADER_COLS), width=HEADER_COLS, align='edge', color=HEADER_COLORS, edgecolor='#444444', linewidth=0.6)

# ---------- overlay in pixels ----------
ax = fig.add_axes([0,0,1,1], facecolor='none')
ax.set_xlim(0,SW); ax.set_ylim(SH,0); ax.set_axis_off()
TXT = '#1f1f1f'
for name,x in zip(HEADER_TEXT,HEADER_TEXT_X):
    ax.text(x,86,name,rotation=90,ha='center',va='bottom',style='italic',fontsize=7.6,color='#333333')
ax.plot([240,241,248,255,256],[87,90,90,90,87],color='#666666',lw=.6)
ax.text(20,23,'A',fontsize=19,ha='center',va='center',color='#111111')
ax.text(528,23,'B',fontsize=19,ha='center',va='center',color='#111111')
for t,x,c in [('Protists',99,'#333333'),('Fungi',189,'#333333'),('Protostomes',302,'#333333'),('Deuterostomes',404,'#e8e6f2')]:
    ax.text(x,105,t,fontsize=8.3,ha='center',va='center',color=c)
for t,y,fs in [('Early Metazoa',207,10.4),('Vertebrate',394,10.4),('Species Specific',851,10.8)]:
    ax.text(20,y,t,rotation=90,fontsize=fs,ha='center',va='center',color='#222222')

R = 13
def style(cls, lw):
    return (STRONG[cls] if lw >= 1.2 else LIGHT[cls])
def edge(a,b,cls,lw,label,rad):
    pa,pb = NODES[a],NODES[b]
    col = style(cls,lw)
    p = FancyArrowPatch(pa,pb,connectionstyle=f'arc3,rad={rad}',arrowstyle='-|>',mutation_scale=4+0.9*lw,
                        lw=lw*0.72,color=col,shrinkA=9,shrinkB=10,zorder=3 if lw<1.2 else 4)
    ax.add_patch(p)
    if label:
        mx = (pa[0]+pb[0])/2 + rad*(pb[1]-pa[1])/2
        my = (pa[1]+pb[1])/2 - rad*(pb[0]-pa[0])/2
        ax.text(mx,my,label,fontsize=EDGE_FS,ha='center',va='center',color=TXT,zorder=7,family=NET_FONT)
for a,b,c,l in THIN_EDGES:
    edge(a,b,c,0.9,l,0)
for a,b,c,w,l,r in THICK_EDGES:
    edge(a,b,c,w,l,r)
for n_,c,w,l in SELF_LOOPS:
    x,y = NODES[n_]
    col = style(c,w)
    pth = Path([(x-10,y+5),(x-40,y+4),(x-25,y-28),(x-10,y-27),(x+3,y-30),(x+3,y-22),(x+2,y-13)],[Path.MOVETO,Path.CURVE4,Path.CURVE4,Path.CURVE4,Path.CURVE4,Path.CURVE4,Path.CURVE4])
    ax.add_patch(PathPatch(pth,fill=False,edgecolor=col,lw=w*0.75,zorder=4))
    ax.plot([x+2],[y-14],marker='v',ms=1.8+w*.7,color=col,zorder=4,mew=0)
    if l: ax.text(x-24,y-20,l,fontsize=EDGE_FS,ha='center',va='center',color=TXT,zorder=7,family=NET_FONT)
for name,(x,y) in NODES.items():
    ax.add_patch(Circle((x,y),R-1.3,facecolor='#f8ec60',edgecolor='#b4b396',lw=.7,zorder=5))
    if not name.startswith('_'):
        ax.text(x,y,NODE_TEXT_OVERRIDE.get(name,name),fontsize=NODE_FS,ha='center',va='center',color=TXT,zorder=8,family=NET_FONT)
for t,x,y in EXTRA_LABELS:
    ax.text(x,y,t,fontsize=NODE_FS,ha='center',va='center',color=TXT,zorder=8,family=NET_FONT)

# ---------- legends ----------
LEG_FS = 8.1
def box(x,y,w,h,c,ec='#666666',lw=.8):
    ax.add_patch(Rectangle((x,y),w,h,facecolor=c,edgecolor=ec,lw=lw,zorder=6))
ax.text(115,1224,'*',fontsize=12,ha='center',va='center',color='#222222')
for t,c,y in zip(LEGEND_SPECIES,LEGEND_SPECIES_COL,[1233,1255,1279,1302]):
    box(127,y-6,18,11,c)
    ax.text(152,y,t,style='italic',fontsize=LEG_FS,va='center',color='#333333')
for t,c,y in zip(LEGEND_PAIR,[YELLOW,'#3a67ad'],[1249,1282]):
    box(262,y-9,18,18,c)
    ax.text(288,y,t,style='italic',fontsize=LEG_FS,va='center',color='#333333')
for t,c,y in zip(LEGEND_CLASS,[STRONG['P'],'#e8262a','#4aad3f'],[1231,1257,1283]):
    box(560,y-6,18,11,c)
    ax.text(587,y,t,style='italic',fontsize=LEG_FS,va='center',color='#333333')
def cshape(x,y,h,c,lw):
    pth = Path([(x+20,y),(x-8,y+4),(x-8,y+h-6),(x+15,y+h)],[Path.MOVETO,Path.CURVE4,Path.CURVE4,Path.CURVE4])
    ax.add_patch(PathPatch(pth,fill=False,edgecolor=c,lw=lw,zorder=6))
cshape(824,1228,28,STRONG['G'],2.4)
cshape(824,1263,27,LIGHT['G'],.8)
cshape(988,1262,25,LIGHT['G'],.8)
ax.text(853,1241,'Many Occurences',style='italic',fontsize=LEG_FS,va='center',color='#333333')
ax.text(853,1276,'Few Occurences',style='italic',fontsize=LEG_FS,va='center',color='#333333')
ax.text(1022,1241,'Domain orientation',style='italic',fontsize=LEG_FS,va='center',color='#333333')
ax.text(1020,1271,'No. of species in which domain pair occurs',style='italic',fontsize=LEG_FS,va='center',color='#333333')
ax.text(990,1268,'6',fontsize=5.5,ha='center',va='center',color=TXT)
for p0,p1 in [((978,1229),(995,1251)),((1014,1250),(998,1228))]:
    ax.add_patch(FancyArrowPatch(p0,p1,arrowstyle='-|>',mutation_scale=7,lw=1.2,color=STRONG['P'],zorder=6))
ax.text(50,1335,'Significance:',fontsize=11,va='center',color='#333333')
for t,c,x,y in zip(LEGEND_SIG,[SIG['G'],SIG['P'],SIG['R'],SIG['K']],[176,296,176,296],[1335,1335,1367,1367]):
    box(x,y-9,17,18,c,ec='none',lw=0)
    ax.text(x+23,y,t,fontsize=10.8,va='center',color='#333333')

fig.savefig('out.png',dpi=100)
